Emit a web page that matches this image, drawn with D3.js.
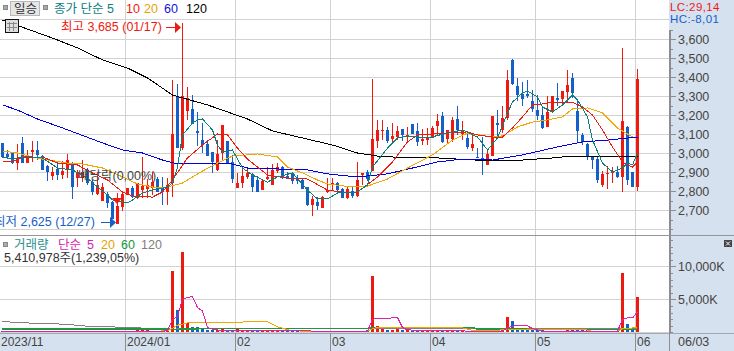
<!DOCTYPE html>
<html><head><meta charset="utf-8">
<script src="https://cdn.jsdelivr.net/npm/d3@7/dist/d3.min.js"></script>
<style>
html,body{margin:0;padding:0;background:#fff;overflow:hidden}
svg{display:block}
text{font-family:"Liberation Sans","Noto Sans CJK KR",sans-serif;font-size:12px}
</style></head><body><svg id="c" width="734" height="351"></svg>
<script>
const opens=[3055,2995,3000,2945,3055,2945,3005,3015,2985,2930,2880,2915,2885,2915,2945,2870,2870,2910,2845,2785,2750,2785,2740,2625,2715,2780,2815,2765,2805,2810,2815,2865,2820,2795,2840,3300,3025,3220,3230,3115,3070,3050,3005,2910,3000,3065,2955,2815,2840,2875,2890,2860,2805,2865,2830,2905,2925,2880,2890,2865,2860,2820,2725,2740,2710,2795,2835,2840,2810,2765,2800,2775,2885,2900,2905,3065,3115,3120,3075,3085,3125,3085,3155,3115,3065,3070,3080,3140,3195,3075,3075,3180,3100,3080,3025,2980,2975,2935,2985,3160,3120,3185,3490,3355,3310,3310,3275,3225,3200,3135,3215,3290,3285,3320,3395,3220,3095,3050,2980,2970,2830,2890,2895,2900,2875,3135,2900,2820];
const closes=[2980,2980,2945,2975,2945,2975,3015,2990,2910,2900,2900,2885,2905,2965,2820,2900,2900,2840,2795,2830,2820,2735,2655,2720,2785,2815,2770,2840,2825,2830,2845,2795,2795,2830,3100,3025,3300,3290,3155,3105,3040,2985,2955,2995,3150,2945,2865,2840,2880,2895,2820,2795,2855,2875,2910,2925,2875,2865,2855,2855,2810,2725,2760,2720,2770,2805,2840,2805,2765,2810,2775,2860,2895,2865,3075,3120,3120,3065,3090,3115,3095,3095,3100,3060,3075,3080,3130,3170,3060,3120,3175,3120,3115,3030,3050,2975,2970,2995,3195,3150,3185,3385,3365,3305,3285,3300,3230,3195,3130,3215,3300,3280,3325,3360,3315,3115,3060,2980,2965,2860,2890,2895,2900,2875,3170,2860,2820,3390];
const highs=[3055,3015,3005,3050,3085,3015,3065,3065,2990,2935,2925,2955,2960,2995,2955,2910,2965,2920,2860,2900,2840,2795,2750,2790,2795,2815,2825,2840,2980,2865,2900,2875,2875,2870,3385,3365,3685,3345,3305,3215,3160,3070,3005,3070,3150,3065,2990,2895,2925,2925,2895,2880,2860,2925,2940,2945,2930,2900,2895,2885,2865,2820,2775,2770,2775,2870,2870,2845,2815,2825,2825,2955,2895,2910,3390,3175,3175,3135,3160,3140,3125,3135,3155,3160,3125,3130,3140,3205,3215,3120,3190,3250,3170,3100,3095,3025,3085,3015,3195,3225,3250,3435,3495,3395,3375,3385,3330,3305,3250,3300,3300,3370,3325,3435,3420,3275,3105,3055,2980,2980,2905,2930,2925,2930,3555,3140,2900,3440];
const lows=[2975,2970,2940,2910,2945,2945,2955,2965,2910,2855,2860,2860,2865,2870,2760,2820,2845,2830,2780,2780,2750,2710,2655,2625,2695,2780,2765,2760,2765,2765,2780,2795,2725,2725,2770,3025,3015,3175,3155,3035,3000,2985,2895,2905,2965,2945,2840,2815,2815,2865,2795,2795,2805,2860,2830,2895,2865,2865,2835,2835,2810,2720,2670,2700,2710,2790,2805,2785,2765,2760,2765,2770,2830,2855,2905,3025,3070,3055,3060,3070,3065,3055,3100,3035,3040,3040,3080,3095,3055,3055,3060,3095,3070,3020,3010,2975,2885,2935,2985,3075,3105,3175,3360,3275,3250,3290,3215,3175,3125,3135,3210,3250,3250,3270,3290,3055,3040,2965,2915,2840,2820,2810,2840,2870,2795,2830,2820,2800];
const volumes=[180,150,170,160,230,150,150,200,210,150,170,150,160,200,240,170,170,170,150,170,200,180,150,190,260,240,220,450,280,300,260,250,280,300,9350,3400,12230,1370,800,800,600,280,280,380,550,350,350,450,350,300,220,200,230,180,190,210,200,190,170,220,200,210,180,190,200,220,200,180,190,210,200,240,260,280,8600,1000,550,350,350,450,280,300,220,240,200,210,250,380,420,220,230,260,190,240,200,190,170,190,250,220,280,2380,1780,330,320,310,280,300,290,260,250,270,260,300,280,330,300,280,260,250,230,210,220,240,8950,1300,700,5410.978];
const ma5=[[0,2979],[2,2968],[4,2979],[6,2979],[8,2974],[11,2921],[14,2911],[17,2868],[19,2821],[21,2779],[22,2753],[25,2737],[26,2753],[28,2790],[30,2805],[33,2821],[34,2842],[35,2926],[36,3095],[38,3158],[39,3174],[40,3179],[42,3121],[43,3042],[44,3005],[46,3016],[48,2921],[50,2884],[53,2847],[55,2874],[58,2895],[61,2805],[63,2758],[65,2758],[67,2790],[71,2795],[73,2832],[74,2926],[77,3026],[79,3079],[81,3090],[85,3079],[89,3105],[92,3121],[95,3084],[97,3016],[99,3079],[101,3210],[102,3268],[104,3316],[105,3326],[107,3295],[108,3242],[110,3216],[112,3253],[114,3305],[115,3279],[117,3190],[118,3068],[120,2947],[122,2900],[124,2921],[125,2947],[126,2937],[127,3000]];
const ma10=[[0,2953],[2,2953],[4,2979],[6,2974],[8,2979],[11,2947],[15,2937],[18,2895],[21,2858],[24,2795],[26,2774],[30,2768],[32,2795],[34,2858],[37,2974],[40,3042],[43,3100],[45,3095],[47,3026],[49,2968],[53,2884],[57,2868],[61,2863],[65,2805],[69,2790],[71,2795],[75,2874],[78,2953],[81,3058],[83,3095],[89,3105],[93,3111],[95,3095],[98,3084],[100,3084],[102,3132],[104,3190],[106,3253],[108,3258],[110,3268],[114,3268],[116,3242],[118,3200],[120,3121],[122,3032],[124,2953],[125,2937],[126,2926],[127,2953]];
const ma20=[[0,3011],[3,3000],[6,2979],[8,2968],[13,2947],[16,2942],[20,2921],[24,2874],[27,2837],[30,2821],[33,2821],[36,2842],[40,2905],[43,2947],[46,2984],[49,2990],[51,2995],[55,2979],[57,2926],[60,2895],[63,2858],[65,2837],[70,2821],[73,2826],[77,2863],[81,2921],[86,2990],[90,3068],[93,3105],[98,3084],[100,3090],[103,3137],[106,3163],[109,3174],[112,3190],[114,3232],[117,3237],[120,3211],[123,3132],[126,3084]];
const ma60=[[0,3253],[3,3226],[7,3179],[12,3132],[20,3053],[24,3016],[28,3000],[32,2963],[35,2942],[39,2947],[46,2942],[49,2921],[61,2911],[65,2890],[71,2874],[77,2890],[82,2921],[87,2953],[92,2968],[98,2963],[104,2990],[111,3032],[116,3058],[121,3068],[127,3084]];
const ma120=[[0,3700],[5,3652],[10,3605],[15,3553],[20,3490],[25,3447],[29,3395],[34,3305],[36,3290],[41,3253],[49,3179],[54,3116],[60,3079],[66,3042],[71,3000],[75,2984],[81,2974],[87,2974],[91,2968],[98,2958],[104,2963],[110,2974],[114,2984],[120,2984],[127,2984]];
const vma5=[[0,170],[32,160],[33,250],[34,1980],[35,2380],[36,5000],[37,5260],[38,5410],[39,3750],[40,3240],[41,720],[42,460],[43,350],[50,200],[73,190],[74,1980],[75,2080],[76,2080],[78,2180],[79,2230],[80,720],[81,360],[84,310],[85,200],[100,190],[101,650],[102,950],[105,970],[106,560],[108,160],[123,170],[124,1960],[125,2170],[126,2170],[127,3100]];
const vma20=[[0,80],[33,200],[35,1070],[37,1420],[40,1420],[49,1575],[53,1575],[55,820],[58,215],[71,60],[73,160],[74,565],[75,715],[79,660],[92,660],[94,310],[99,300],[101,500],[116,500],[118,150],[123,150],[124,600],[127,680]];
const vma60=[[0,510],[33,490],[34,430],[40,550],[73,610],[74,700],[94,720],[95,480],[127,420]];
const vma120=[[0,1625],[6,1375],[13,1220],[16,970],[21,820],[25,770],[30,550],[34,420],[35,520],[127,560]];
const monthIdx=[0,25,47,66,86,107,127];
const monthLabels=["2023/11","2024/01","02","03","04","05","06"];
const priceTicks=[3600,3500,3400,3300,3200,3100,3000,2900,2800,2700];
const priceGrid=[3700,3600,3500,3400,3300,3200,3100,3000,2900,2800,2700,2600];
const priceMinor=[3650,3600,3550,3500,3450,3400,3350,3300,3250,3200,3150,3100,3050,3000,2950,2900,2850,2800,2750,2700,2650,2600];
const volTicks=[10000,5000];
const volMinor=[14000,13000,12000,11000,10000,9000,8000,7000,6000,5000,4000,3000,2000,1000,0];

const RED="#ee1a10",BLUE="#1560c8",GRID="#d2d2d2",PANEL="#d6e1ef",AX="#8d8d8d",TXT="#444";
const W=734,H=351,plotR=669;
const x=d3.scaleLinear().domain([0,127]).range([2.5,637.5]);
const y=d3.scaleLinear().domain([3600,2700]).range([39,210]);
const yv=d3.scaleLinear().domain([0,10000]).range([332.3,266.3]);
const svg=d3.select("#c");
const px=v=>Math.floor(v)+.5;

svg.append("rect").attr("x",plotR).attr("y",0).attr("width",W-plotR).attr("height",H).attr("fill",PANEL);
svg.append("rect").attr("x",0).attr("y",333).attr("width",W).attr("height",18).attr("fill",PANEL);

const g=svg.append("g").attr("shape-rendering","crispEdges");
g.selectAll(".vg").data(monthIdx.slice(1)).join("line").attr("x1",d=>px(x(d)-2)).attr("x2",d=>px(x(d)-2)).attr("y1",0).attr("y2",333).attr("stroke",GRID);
g.selectAll(".hg").data(priceGrid).join("line").attr("x1",0).attr("x2",plotR).attr("y1",d=>px(y(d))).attr("y2",d=>px(y(d))).attr("stroke",GRID);
g.selectAll(".hv").data(volTicks.concat([0])).join("line").attr("x1",0).attr("x2",plotR).attr("y1",d=>px(yv(d))).attr("y2",d=>px(yv(d))).attr("stroke",GRID);
g.append("line").attr("x1",0).attr("x2",W).attr("y1",235.5).attr("y2",235.5).attr("stroke","#969696");
g.append("line").attr("x1",0).attr("x2",W).attr("y1",333.5).attr("y2",333.5).attr("stroke","#a4a8b0");

const idx=d3.range(opens.length);
const col=i=>closes[i]>=opens[i]?RED:BLUE;
const c=svg.append("g").attr("shape-rendering","crispEdges");
c.selectAll(".w").data(idx).join("rect").attr("x",i=>Math.floor(x(i))).attr("width",1)
 .attr("y",i=>y(highs[i])).attr("height",i=>Math.max(1,y(lows[i])-y(highs[i]))).attr("fill",col);
c.selectAll(".b").data(idx).join("rect").attr("x",i=>Math.floor(x(i))-1).attr("width",3)
 .attr("y",i=>y(Math.max(opens[i],closes[i]))).attr("height",i=>Math.max(1,Math.abs(y(opens[i])-y(closes[i])))).attr("fill",col);

const line=d3.line().x(d=>x(d[0])).y(d=>y(d[1]));
[[ma120,"#000"],[ma60,"#0000e6"],[ma20,"#f0a800"],[ma10,"#ee1a10"],[ma5,"#0a8078"]].forEach(([s,k])=>{
 svg.append("path").attr("d",line(s)).attr("fill","none").attr("stroke",k).attr("stroke-width",1).attr("shape-rendering","crispEdges");
});

svg.append("g").attr("shape-rendering","crispEdges").selectAll("rect").data(idx).join("rect")
 .attr("x",i=>Math.floor(x(i))-1).attr("width",3)
 .attr("y",i=>yv(volumes[i])).attr("height",i=>yv(0)-yv(volumes[i])).attr("fill",col);
const vline=d3.line().x(d=>x(d[0])).y(d=>yv(d[1]));
[[vma120,"#808080",1],[vma60,"#1a9a3c",1.5],[vma20,"#f0a800",1],[vma5,"#e020b0",1]].forEach(([s,k,w])=>{
 svg.append("path").attr("d",vline(s)).attr("fill","none").attr("stroke",k).attr("stroke-width",w).attr("shape-rendering","crispEdges");
});

svg.append("rect").attr("x",669).attr("y",30).attr("width",2).attr("height",205).attr("fill",AX);
svg.append("rect").attr("x",669).attr("y",236).attr("width",2).attr("height",97).attr("fill",AX);
function styleAxis(sel){sel.select(".domain").remove();sel.selectAll("line").attr("stroke",AX).attr("shape-rendering","crispEdges");sel.selectAll("text").attr("fill",TXT).style("font-size","12.5px");}
svg.append("g").attr("transform","translate(670,0)").call(d3.axisRight(y).tickValues(priceMinor).tickSize(3).tickFormat("")).call(styleAxis);
svg.append("g").attr("transform","translate(670,0)").call(d3.axisRight(y).tickValues(priceTicks).tickSize(6).tickPadding(2).tickFormat(d3.format(","))).call(styleAxis);
svg.append("g").attr("transform","translate(670,0)").call(d3.axisRight(yv).tickValues(volMinor).tickSize(3).tickFormat("")).call(styleAxis);
svg.append("g").attr("transform","translate(670,0)").call(d3.axisRight(yv).tickValues(volTicks).tickSize(6).tickPadding(2).tickFormat(d=>d3.format(",")(d)+"K")).call(styleAxis);

const b=svg.append("g");
b.selectAll("line").data(monthIdx.slice(1)).join("line").attr("x1",d=>px(x(d)-2)).attr("x2",d=>px(x(d)-2)).attr("y1",333).attr("y2",351).attr("stroke",AX).attr("shape-rendering","crispEdges");
b.append("rect").attr("x",669).attr("y",333).attr("width",1).attr("height",18).attr("fill",AX);
b.selectAll("text").data(monthIdx).join("text").attr("x",d=>d===0?1:x(d)-0.5).attr("y",346).attr("fill",TXT).text((d,i)=>monthLabels[i]);
const T=(tx,ty,s,k,fs)=>svg.append("text").attr("x",tx).attr("y",ty).attr("fill",k).style("font-size",(fs||12)+"px").text(s);
T(678,346,"06/03",TXT,12.5);

svg.append("rect").attr("x",3.5).attr("y",5.5).attr("width",4).attr("height",4).attr("fill","#aaa").attr("stroke","#888");
svg.append("rect").attr("x",10.5).attr("y",1.5).attr("width",29).attr("height",14).attr("fill","#e6e6e6").attr("stroke","#b8b8b8");
T(14,13,"일승","#333",12.5);
svg.append("rect").attr("x",43.5).attr("y",5.5).attr("width",4).attr("height",4).attr("fill","#aaa").attr("stroke","#888");
T(54,13,"종가 단순 5","#0b7f7f",12.5);
T(126,13,"10",RED,12.5);T(144,13,"20","#e8a200",12.5);T(164,13,"60","#1010e0",12.5);T(186,13,"120","#000",12.5);
T(670,10.5,"LC:29,14",RED,11.5).attr("letter-spacing",.4);T(670,23,"HC:-8,01",BLUE,11.5).attr("letter-spacing",.4);

const ic=svg.append("g").attr("shape-rendering","crispEdges");
ic.append("rect").attr("x",5.5).attr("y",19.5).attr("width",13).attr("height",13).attr("fill","#ddd").attr("stroke","#111");
ic.selectAll(".v").data([9.5,13.5]).join("line").attr("x1",d=>d).attr("x2",d=>d).attr("y1",22).attr("y2",31).attr("stroke","#888");
ic.selectAll(".h").data([23.5,27.5]).join("line").attr("x1",7).attr("x2",17).attr("y1",d=>d).attr("y2",d=>d).attr("stroke","#888");

T(61,31,"최고 3,685 (01/17)",RED,12.5);
svg.append("rect").attr("x",166).attr("y",27).attr("width",10).attr("height",1).attr("fill",RED);
svg.append("path").attr("d","M175,22L181,27.5L175,33Z").attr("fill",RED);
T(-6,226,"최저 2,625 (12/27)",BLUE,12.5);
svg.append("rect").attr("x",101).attr("y",222).attr("width",10).attr("height",1).attr("fill",BLUE);
svg.append("path").attr("d","M110,217L116,222.5L110,228Z").attr("fill",BLUE);
T(78,180,"배당락(0,00%)",TXT,12.5);
svg.append("path").attr("d","M112,198L122,198L117,204Z").attr("fill",RED);

svg.append("rect").attr("x",3.5).attr("y",242.5).attr("width",4).attr("height",4).attr("fill","#aaa").attr("stroke","#888");
T(14,249,"거래량","#2a8f8f",12.5);T(58,249,"단순","#d81fb0",12.5);T(87,249,"5","#d81fb0",12.5);
T(101,249,"20","#e8a200",12.5);T(121,249,"60","#129a3a",12.5);T(141,249,"120","#808080",12.5);
T(4,262,"5,410,978주(1,239,05%)","#333",12.5);

const ex=svg.append("g");
ex.append("rect").attr("x",724).attr("y",240).attr("width",8).attr("height",7).attr("fill","#444");
ex.append("path").attr("d","M726,241.5L730,245.5M730,241.5L726,245.5").attr("stroke","#fff").attr("stroke-width",1);
</script></body></html>
